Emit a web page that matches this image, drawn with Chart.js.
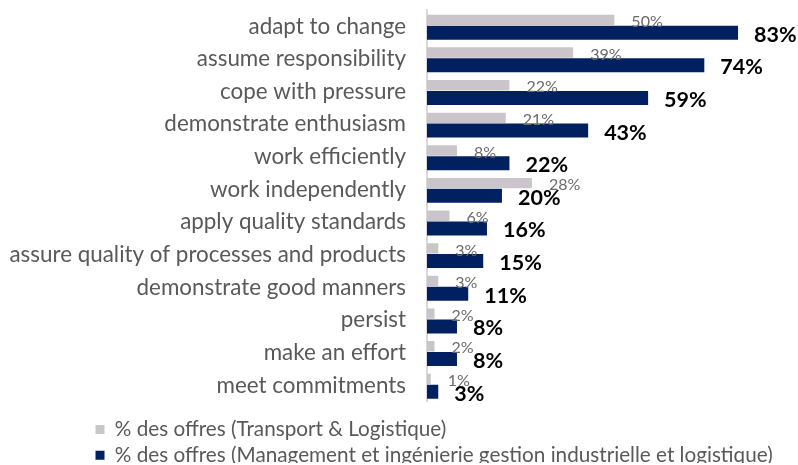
<!DOCTYPE html>
<html><head><meta charset="utf-8">
<script src="https://cdn.jsdelivr.net/npm/chart.js@4"></script>
<style>html,body{margin:0;padding:0;background:#fff;}#wrap{width:798px;height:465px;}</style>
</head><body><div id="wrap"><canvas id="c" width="798" height="465"></canvas></div>
<script>
const categories = ["adapt to change","assume responsibility","cope with pressure","demonstrate enthusiasm","work efficiently","work independently","apply quality standards","assure quality of processes and products","demonstrate good manners","persist","make an effort","meet commitments"];
const transportValues = [50,39,22,21,8,28,6,3,3,2,2,1];
const managementValues = [83,74,59,43,22,20,16,15,11,8,8,3];
const seriesNames = ["% des offres (Transport & Logistique)","% des offres (Management et ingénierie gestion industrielle et logistique)"];

const FONT = "Lato, 'Open Sans', sans-serif";

const labelPlugin = {
  id: 'barLabels',
  afterDatasetsDraw(chart) {
    const ctx = chart.ctx;
    ctx.save();
    chart.data.datasets.forEach((ds, di) => {
      const meta = chart.getDatasetMeta(di);
      meta.data.forEach((bar, i) => {
        const v = ds.data[i];
        ctx.textAlign = "left"; ctx.textBaseline = "middle";
        if (di === 0) {
          ctx.font = "16px " + FONT;
          ctx.fillStyle = "#6a6a6a";
          ctx.fillText(v + "%", bar.x + 17, bar.y + 2);
        } else {
          ctx.font = "bold 21.5px " + FONT;
          ctx.fillStyle = "#000";
          ctx.fillText(v + "%", bar.x + 16, bar.y + 2);
        }
      });
    });
    ctx.restore();
  }
};

const legendShift = {
  id: 'legendShift',
  afterLayout(chart) {
    if (chart.legend) { chart.legend.left += 90.5; chart.legend.top += 12.5; }
  }
};

new Chart(document.getElementById('c'), {
  type: 'bar',
  data: {
    labels: categories,
    datasets: [
      { label: seriesNames[0], data: transportValues, backgroundColor: '#c9c5ca', barPercentage: 0.82, categoryPercentage: 0.78 },
      { label: seriesNames[1], data: managementValues, backgroundColor: '#002060', barPercentage: 1.1, categoryPercentage: 0.78 }
    ]
  },
  options: {
    indexAxis: 'y',
    responsive: false,
    animation: false,
    layout: { padding: { top: 10, right: 0, bottom: 2, left: 0 } },
    scales: {
      x: { display: false, min: 0, max: 99 },
      y: {
        afterFit(s) { s.width = 427; s.paddingTop = 0; s.paddingBottom = 0; },
        grid: { display: false, drawTicks: false },
        border: { display: true, color: '#d9d9d9', width: 2 },
        ticks: { color: '#595959', font: { family: FONT, size: 22.4 }, padding: 21 }
      }
    },
    plugins: {
      tooltip: { enabled: false },
      legend: {
        position: 'bottom', align: 'start',
        labels: {
          color: '#595959', font: { family: FONT, size: 20.7 },
          boxWidth: 9, boxHeight: 9, padding: 5
        }
      }
    }
  },
  plugins: [labelPlugin, legendShift]
});
</script></body></html>
